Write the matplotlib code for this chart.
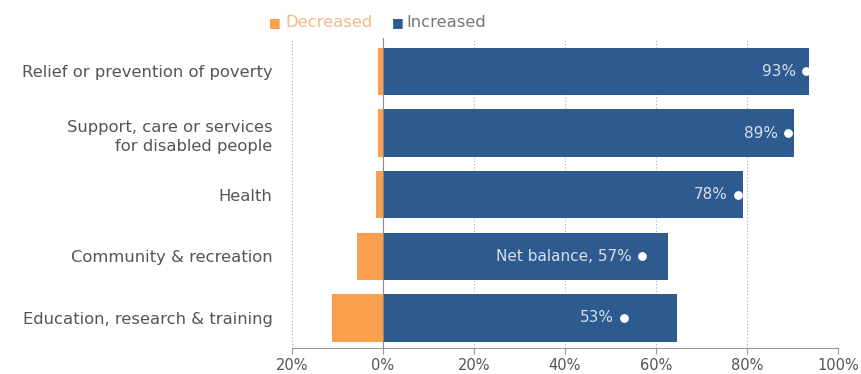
import numpy as np
import matplotlib.pyplot as plt

# categories, top to bottom
categories = [
    "Relief or prevention of poverty",
    "Support, care or services\nfor disabled people",
    "Health",
    "Community & recreation",
    "Education, research & training",
]
# share of charities reporting a decrease / increase in demand (%)
decreased = [1.0, 1.0, 1.6, 5.6, 11.3]
increased = [93.6, 90.3, 79.2, 62.6, 64.6]
net_balance = [93, 89, 78, 57, 53]
net_labels = ["93%", "89%", "78%", "Net balance, 57%", "53%"]

xticks = [-20, 0, 20, 40, 60, 80, 100]
xtick_labels = ["20%", "0%", "20%", "40%", "60%", "80%", "100%"]

BLUE = "#2d5b90"
ORANGE = "#f9a04e"
TEXT = "#555555"

plt.rcParams['font.family'] = ['DejaVu Sans']

fig = plt.figure(figsize=(8.62, 3.74), dpi=100)
ax = fig.add_axes([0.3387, 0.0695, 0.6333, 0.8285])

y = np.arange(len(categories))
ax.barh(y, [-d for d in decreased], height=0.77, color=ORANGE, zorder=2)
ax.barh(y, increased, height=0.77, color=BLUE, zorder=2)

# net balance dots with labels
ax.scatter(net_balance, y, s=28, color="white", zorder=4)
for yi, v, lab in zip(y, net_balance, net_labels):
    ax.text(v - 2.2, yi, lab, ha="right", va="center", fontsize=11,
            color="#d9dfea", zorder=4)

ax.set_xlim(-20, 100)
ax.set_ylim(len(categories) - 0.51, -0.54)
ax.set_yticks(y)
ax.set_yticklabels(categories, fontsize=11.8, color=TEXT, ha="right",
                   multialignment="right", linespacing=1.35)
ax.tick_params(axis="y", length=0, pad=14)
ax.set_xticks(xticks)
ax.set_xticklabels(xtick_labels, fontsize=10.5, color=TEXT)
ax.tick_params(axis="x", length=4, color="#999999", pad=3)

# dotted gridlines, solid zero line
for xv in xticks:
    if xv == 0:
        ax.axvline(0, color="#888888", lw=0.8, zorder=3)
    else:
        ax.axvline(xv, color="#aaaaaa", lw=0.8, ls=(0, (1, 2)), zorder=1)

for side in ["top", "right", "left"]:
    ax.spines[side].set_visible(False)
ax.spines["bottom"].set_color("#999999")
ax.spines["bottom"].set_linewidth(0.8)

# legend across the top
fig.text(0.319, 0.94, "\u25a0", color=ORANGE, fontsize=9, ha="center", va="center")
fig.text(0.331, 0.94, "Decreased", color="#f4b78a", fontsize=11.8, ha="left", va="center")
fig.text(0.462, 0.94, "\u25a0", color=BLUE, fontsize=9, ha="center", va="center")
fig.text(0.471, 0.94, "Increased", color="#777777", fontsize=11.8, ha="left", va="center")

fig.savefig("out.png", dpi=100)
